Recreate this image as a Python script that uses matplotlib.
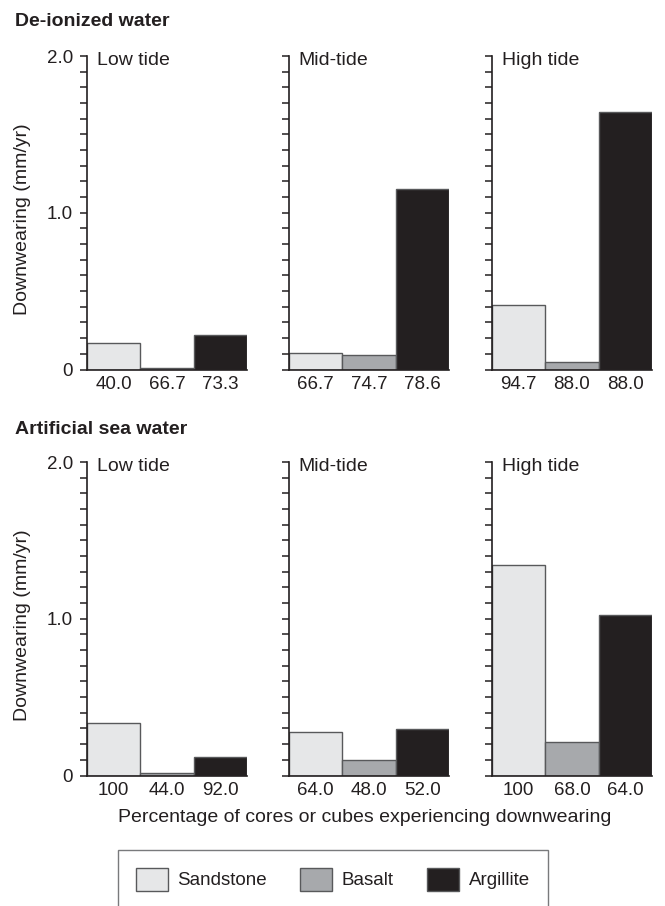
import numpy as np
import matplotlib
matplotlib.use('Agg')
import matplotlib.pyplot as plt
from matplotlib.patches import Patch

plt.rcParams['font.family'] = ['Liberation Sans', 'DejaVu Sans']

conditions = ['Low tide', 'Mid-tide', 'High tide']
rock_types = ['Sandstone', 'Basalt', 'Argillite']
rock_colors = ['#e6e7e8', '#a7a9ac', '#231f20']

# downwearing rates (mm/yr), one row per tide level, one column per rock
deionized_rates = [[0.166, 0.01, 0.219],
                   [0.105, 0.095, 1.15],
                   [0.41, 0.045, 1.645]]
deionized_pct = [['40.0', '66.7', '73.3'],
                 ['66.7', '74.7', '78.6'],
                 ['94.7', '88.0', '88.0']]

seawater_rates = [[0.335, 0.015, 0.117],
                  [0.277, 0.098, 0.296],
                  [1.343, 0.211, 1.023]]
seawater_pct = [['100', '44.0', '92.0'],
                ['64.0', '48.0', '52.0'],
                ['100', '68.0', '64.0']]

W, H = 665, 906
ink = '#231f20'
fig = plt.figure(figsize=(W / 100, H / 100), dpi=100)

lefts = [87, 289, 492]
pw = 160
rows = [(369.5, deionized_rates, deionized_pct, 'De-ionized water', 22),
        (775.5, seawater_rates, seawater_pct, 'Artificial sea water', 430)]

ticks = np.round(np.arange(0, 2.001, 0.1), 1)
tick_labels = []
for t in ticks:
    if t == 0:
        tick_labels.append('0')
    elif t in (1.0, 2.0):
        tick_labels.append('%.1f' % t)
    else:
        tick_labels.append('')

for base, rates, pcts, title, ty in rows:
    fig.text(15 / W, 1 - ty / H, title, fontsize=14, fontweight='bold',
             color=ink, va='center', ha='left')
    for i, cond in enumerate(conditions):
        ax = fig.add_axes([lefts[i] / W, (H - base) / H, pw / W, 313.5 / H])
        x = np.arange(3)
        ax.bar(x, rates[i], width=1.0, color=rock_colors,
               edgecolor='#58595b', linewidth=1.0)
        ax.set_xlim(-0.5, 2.5)
        ax.set_ylim(0, 2.0)
        ax.set_xticks(x)
        ax.set_xticklabels(pcts[i], fontsize=13.5, color=ink)
        ax.tick_params(axis='x', length=0, pad=5)
        ax.set_yticks(ticks)
        if i == 0:
            ax.set_yticklabels(tick_labels, fontsize=13.5, color=ink)
        else:
            ax.set_yticklabels([])
        ax.tick_params(axis='y', direction='out', length=5, width=1.1,
                       color=ink, pad=5)
        for s in ['top', 'right']:
            ax.spines[s].set_visible(False)
        for s in ['left', 'bottom']:
            ax.spines[s].set_color(ink)
            ax.spines[s].set_linewidth(1.2)
        ax.patch.set_visible(False)
        ax.annotate(cond, xy=(0, 1), xycoords='axes fraction',
                    xytext=(7, 3), textcoords='offset points',
                    ha='left', va='top', fontsize=14, color=ink)
    fig.text(23 / W, 1 - (base - 150) / H, 'Downwearing (mm/yr)',
             rotation=90, fontsize=14, color=ink, ha='center', va='center')

fig.text(365 / W, 1 - 817 / H,
         'Percentage of cores or cubes experiencing downwearing',
         fontsize=14, color=ink, ha='center', va='center')

handles = [Patch(facecolor=c, edgecolor='#58595b', linewidth=1.0)
           for c in rock_colors]
leg = fig.legend(handles, rock_types, loc='upper left',
                 bbox_to_anchor=(118 / W, 1 - 850 / H), ncol=3,
                 fontsize=13.5, frameon=True, fancybox=False,
                 borderaxespad=0, borderpad=0.95, handlelength=1.7,
                 handleheight=1.5, handletextpad=0.5, columnspacing=1.8)
leg.get_frame().set_edgecolor('#58595b')
leg.get_frame().set_linewidth(1.0)
for t in leg.get_texts():
    t.set_color(ink)

fig.savefig('out.png', dpi=100)
